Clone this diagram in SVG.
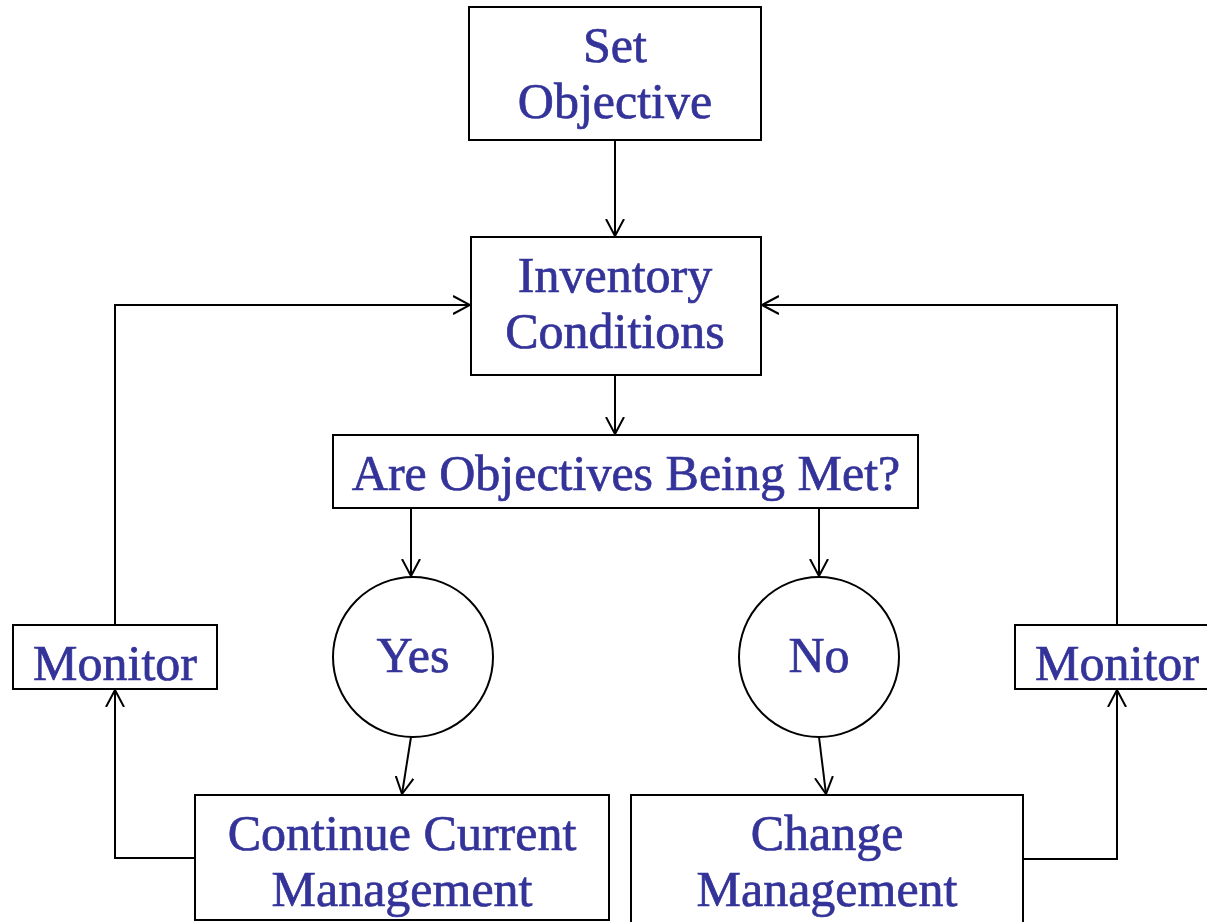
<svg xmlns="http://www.w3.org/2000/svg" width="1207" height="922" viewBox="0 0 1207 922">
<style>
.box{fill:#fff;stroke:#000;stroke-width:2}
.t{font-family:"Liberation Serif","Times New Roman",serif;font-size:50px;fill:#333399;stroke:#333399;stroke-width:0.7;text-anchor:middle}
.c{fill:none;stroke:#000;stroke-width:2}
</style>
<defs>
<marker id="a" viewBox="0 0 18 20" refX="17" refY="10" markerWidth="18" markerHeight="20" markerUnits="userSpaceOnUse" orient="auto">
<path d="M0,1 L17,10 L0,19" fill="none" stroke="#000" stroke-width="2"/>
</marker>
</defs>
<g id="connectors">
<path class="c" d="M615,140 L615,236" marker-end="url(#a)"/>
<path class="c" d="M615,375 L615,434" marker-end="url(#a)"/>
<path class="c" d="M411,508 L411,576" marker-end="url(#a)"/>
<path class="c" d="M819,508 L819,576" marker-end="url(#a)"/>
<path class="c" d="M411,737 L402,794" marker-end="url(#a)"/>
<path class="c" d="M819,737 L826,794" marker-end="url(#a)"/>
<path class="c" d="M195,858 L115,858 L115,690" marker-end="url(#a)"/>
<path class="c" d="M115,625 L115,305 L470,305" marker-end="url(#a)"/>
<path class="c" d="M1023,859 L1117,859 L1117,690" marker-end="url(#a)"/>
<path class="c" d="M1117,625 L1117,305 L762,305" marker-end="url(#a)"/>
</g>
<g id="set-objective">
<rect class="box" x="469" y="7" width="292" height="133"/>
<text class="t" x="615" y="62">Set</text>
<text class="t" x="615" y="118">Objective</text>
</g>
<g id="inventory-conditions">
<rect class="box" x="471" y="237" width="290" height="138"/>
<text class="t" x="615" y="292">Inventory</text>
<text class="t" x="615" y="348">Conditions</text>
</g>
<g id="objectives-met">
<rect class="box" x="333" y="435" width="585" height="73"/>
<text class="t" x="626" y="490">Are Objectives Being Met?</text>
</g>
<g id="yes">
<circle class="box" cx="413" cy="657" r="80"/>
<text class="t" x="413" y="672">Yes</text>
</g>
<g id="no">
<circle class="box" cx="819" cy="657" r="80"/>
<text class="t" x="819" y="672">No</text>
</g>
<g id="monitor-left">
<rect class="box" x="13" y="625" width="204" height="64"/>
<text class="t" x="115" y="680">Monitor</text>
</g>
<g id="monitor-right">
<rect class="box" x="1015" y="625" width="200" height="64"/>
<text class="t" x="1117" y="680">Monitor</text>
</g>
<g id="continue-current">
<rect class="box" x="195" y="795" width="414" height="125"/>
<text class="t" x="402" y="850">Continue Current</text>
<text class="t" x="402" y="906">Management</text>
</g>
<g id="change-management">
<rect class="box" x="631" y="795" width="392" height="130"/>
<text class="t" x="827" y="850">Change</text>
<text class="t" x="827" y="906">Management</text>
</g>
</svg>
